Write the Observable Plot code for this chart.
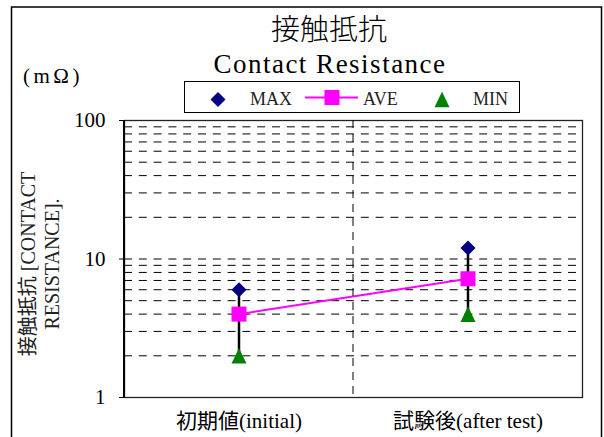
<!DOCTYPE html>
<html><head><meta charset="utf-8">
<script src="https://cdn.jsdelivr.net/npm/d3@7"></script>
<script src="https://cdn.jsdelivr.net/npm/@observablehq/plot@0.6"></script>
<style>body{margin:0;background:#fff}</style>
</head><body><div id="chart"></div>
<script>
const categories = ["初期値(initial)", "試験後(after test)"];
const maxValues = [6, 12];
const aveValues = [4.0, 7.2];
const minValues = [2, 4];
const yTicks = [1, 10, 100];
const gridValues = [2, 3, 4, 5, 6, 7, 8, 9, 10, 20, 30, 40, 50, 60, 70, 80, 90];
const legendLabels = ["MAX", "AVE", "MIN"];
const title = "接触抵抗";
const subtitle = "Contact Resistance";
const unitLabel = "(mΩ)";
const yLabelLines = ["接触抵抗 [CONTACT", "RESISTANCE]."];
const colMax = "#000080", colAve = "#FF00FF", colMin = "#008000";

const data = categories.map((c, i) => ({cat: c, max: maxValues[i], ave: aveValues[i], min: minValues[i]}));

const diamond = {draw(ctx) { const r = 7.5; ctx.moveTo(0, -r); ctx.lineTo(r, 0); ctx.lineTo(0, r); ctx.lineTo(-r, 0); ctx.closePath(); }};
const square = {draw(ctx) { const r = 7.5; ctx.rect(-r, -r, 2 * r, 2 * r); }};
const triangle = {draw(ctx) { ctx.moveTo(0, -7.8); ctx.lineTo(7.5, 7.8); ctx.lineTo(-7.5, 7.8); ctx.closePath(); }};

const serif = "'Liberation Serif', 'Noto Sans CJK JP', serif";

const plot = Plot.plot({
  width: 604, height: 437,
  marginLeft: 124, marginRight: 22, marginTop: 120, marginBottom: 40,
  style: {fontFamily: serif, fontSize: "21px", color: "#000", background: "white"},
  x: {type: "band", domain: categories, padding: 0, label: null, tickSize: 0, tickPadding: 16},
  y: {type: "log", domain: [1, 100], ticks: yTicks, tickFormat: d => String(d), label: null, tickSize: 5, tickPadding: 14},
  marks: [
    Plot.ruleY(gridValues, {stroke: "#000", strokeWidth: 1, strokeDasharray: "8,6.8"}),
    Plot.ruleX(data, {x: "cat", y1: "min", y2: "max", stroke: "#000", strokeWidth: 2.5}),
    Plot.line(data, {x: "cat", y: "ave", stroke: colAve, strokeWidth: 2}),
    Plot.dot(data, {x: "cat", y: "max", symbol: diamond, fill: colMax, stroke: "none"}),
    Plot.dot(data, {x: "cat", y: "ave", symbol: square, fill: colAve, stroke: "none"}),
    Plot.dot(data, {x: "cat", y: "min", symbol: triangle, fill: colMin, stroke: "none"}),
    Plot.frame({stroke: "#222", strokeWidth: 1.3})
  ]
});

const svg = d3.select(plot);
const xs = plot.scale("x");
const ys = plot.scale("y");
// category separator at the band boundary
const sepX = xs.range[0] + xs.bandwidth;
svg.append("line").attr("x1", sepX).attr("x2", sepX).attr("y1", ys.range[1]).attr("y2", ys.range[0])
  .attr("stroke", "#000").attr("stroke-width", 1).attr("stroke-dasharray", "8,6");
// heavier left axis line
svg.append("line").attr("x1", xs.range[0]).attr("x2", xs.range[0]).attr("y1", ys.range[1]).attr("y2", ys.range[0])
  .attr("stroke", "#000").attr("stroke-width", 2);

// outer chart frame
svg.append("rect").attr("x", 11.5).attr("y", 7).attr("width", 590).attr("height", 440)
  .attr("fill", "none").attr("stroke", "#000").attr("stroke-width", 1.5);

// titles
svg.append("text").attr("x", 329).attr("y", 40).attr("text-anchor", "middle")
  .style("font-family", "'Noto Sans CJK JP', sans-serif").style("font-size", "29px").style("font-weight", 300).text(title);
svg.append("text").attr("x", 330).attr("y", 73).attr("text-anchor", "middle")
  .style("font-family", serif).style("font-size", "27px").style("letter-spacing", "1.5px").text(subtitle);
svg.append("text").attr("x", 23).attr("y", 83).attr("text-anchor", "start")
  .style("font-family", serif).style("font-size", "21px").style("letter-spacing", "3.5px").text(unitLabel);

// y-axis label (two rotated lines)
yLabelLines.forEach((t, i) => {
  svg.append("text").attr("transform", `translate(${28 + i * 24},264) rotate(-90)`)
    .attr("text-anchor", "middle").attr("dominant-baseline", "central")
    .style("font-family", serif).style("font-size", "20px").style("fill", "#222").text(t);
});

// legend
const lg = svg.append("g");
lg.append("rect").attr("x", 184.5).attr("y", 81.5).attr("width", 335).attr("height", 31)
  .attr("fill", "white").attr("stroke", "#000").attr("stroke-width", 1);
function sym(s) { const p = d3.path(); s.draw(p); return p.toString(); }
lg.append("path").attr("d", sym(diamond)).attr("transform", "translate(218,99.5)").attr("fill", colMax);
lg.append("line").attr("x1", 305).attr("x2", 358).attr("y1", 97.5).attr("y2", 97.5).attr("stroke", colAve).attr("stroke-width", 2);
lg.append("path").attr("d", sym(square)).attr("transform", "translate(332,97.5)").attr("fill", colAve);
lg.append("path").attr("d", sym(triangle)).attr("transform", "translate(442,99.5)").attr("fill", colMin);
[[250, legendLabels[0]], [363, legendLabels[1]], [473, legendLabels[2]]].forEach(([x, t]) => {
  lg.append("text").attr("x", x).attr("y", 104.5).attr("text-anchor", "start")
    .style("font-family", serif).style("font-size", "18px").style("fill", "#222").text(t);
});

document.getElementById("chart").append(plot);
</script>
</body></html>
